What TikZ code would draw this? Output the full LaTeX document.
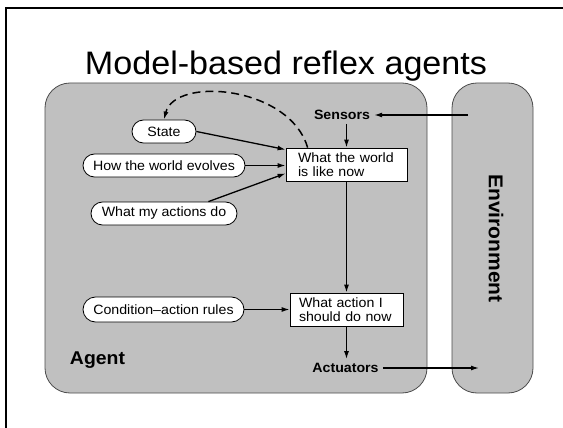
\documentclass[tikz,border=0pt]{standalone}
\usepackage{fontspec}
\setmainfont{Liberation Sans}[FakeStretch=1.05]
\usetikzlibrary{arrows.meta,shapes.misc,calc}
\definecolor{boxgray}{RGB}{192,192,192}
\begin{document}
\begin{tikzpicture}[x=1pt,y=-1pt,
  arr/.style={line width=1.3pt,-{Latex[length=8pt,width=5pt]}},
  oval/.style={draw,fill=white,rounded rectangle,minimum height=23pt,inner sep=0pt,font=\fontsize{13.5}{15}\selectfont,line width=0.8pt},
  sq/.style={draw,fill=white,rectangle,minimum height=33pt,inner ysep=0pt,align=left,font=\fontsize{13.5}{14.5}\selectfont,line width=0.8pt},
  lbl/.style={font=\bfseries\fontsize{13.5}{15}\selectfont,inner sep=4pt},
  panel/.style={draw=black!70,fill=boxgray,rounded corners=25pt,line width=0.8pt,inner sep=0pt}]
\useasboundingbox (0,0) rectangle (563,428);
\fill[white] (0,0) rectangle (563,428);
\draw[line width=2.5pt] (6,428) -- (6,8) -- (563,8);
\node[font=\fontsize{32.5}{36}\selectfont,anchor=base,inner sep=0pt] (title) at (286,75) {Model-based reflex agents};
% panels
\node[panel,minimum width=382pt,minimum height=310pt] (agent) at (236,238) {};
\node[panel,minimum width=81pt,minimum height=310pt] (env) at (492.5,238) {};
\node[rotate=-90,font=\bfseries\fontsize{20}{22}\selectfont] (envlabel) at (496,238.5) {Environment};
\node[font=\bfseries\fontsize{18.5}{20}\selectfont] (agentlabel) at (97.5,360) {Agent};
% labels
\node[lbl] (sensors) at (342,115) {Sensors};
\node[lbl] (actuators) at (345.5,368) {Actuators};
\coordinate (envin) at (468,115);
\coordinate (envout) at (479,368);
% ovals
\node[oval,minimum width=64pt] (state) at (164,131.5) {State};
\node[oval,minimum width=162pt] (how) at (164,165.5) {How the world evolves};
\node[oval,minimum width=146pt] (whatmy) at (164,213.5) {What my actions do};
\node[oval,minimum width=161pt,minimum height=25pt] (cond) at (163.5,309.5) {Condition--action rules};
% boxes
\node[sq,inner xsep=12pt,text width=97pt] (world) at (346.5,164.5) {What the world\\is like now};
\node[sq,inner xsep=9pt,text width=95pt] (action) at (346.5,309.5) {What action I\\should do now};
% connectors
\draw[arr] (envin) -- (sensors.east);
\draw[arr] (sensors.south -| world.north) -- (world.north);
\draw[arr] (world.south) -- (action.north);
\draw[arr] (action.south) -- (action.south |- actuators.north);
\draw[arr] (actuators.east) -- (envout);
\draw[arr] (state.east) -- ($(world.north west)+(0,2)$);
\draw[arr] (how.east) -- (how.east -| world.west);
\draw[arr] (whatmy.15) -- ($(world.south west)+(0,-8)$);
\draw[arr] (cond.east) -- (cond.east -| action.west);
\draw[arr,line width=1.5pt,dash pattern=on 8pt off 5pt] ($(world.north west)+(22,0)$) .. controls (290,86) and (175,76) .. (state.north);
\end{tikzpicture}
\end{document}
